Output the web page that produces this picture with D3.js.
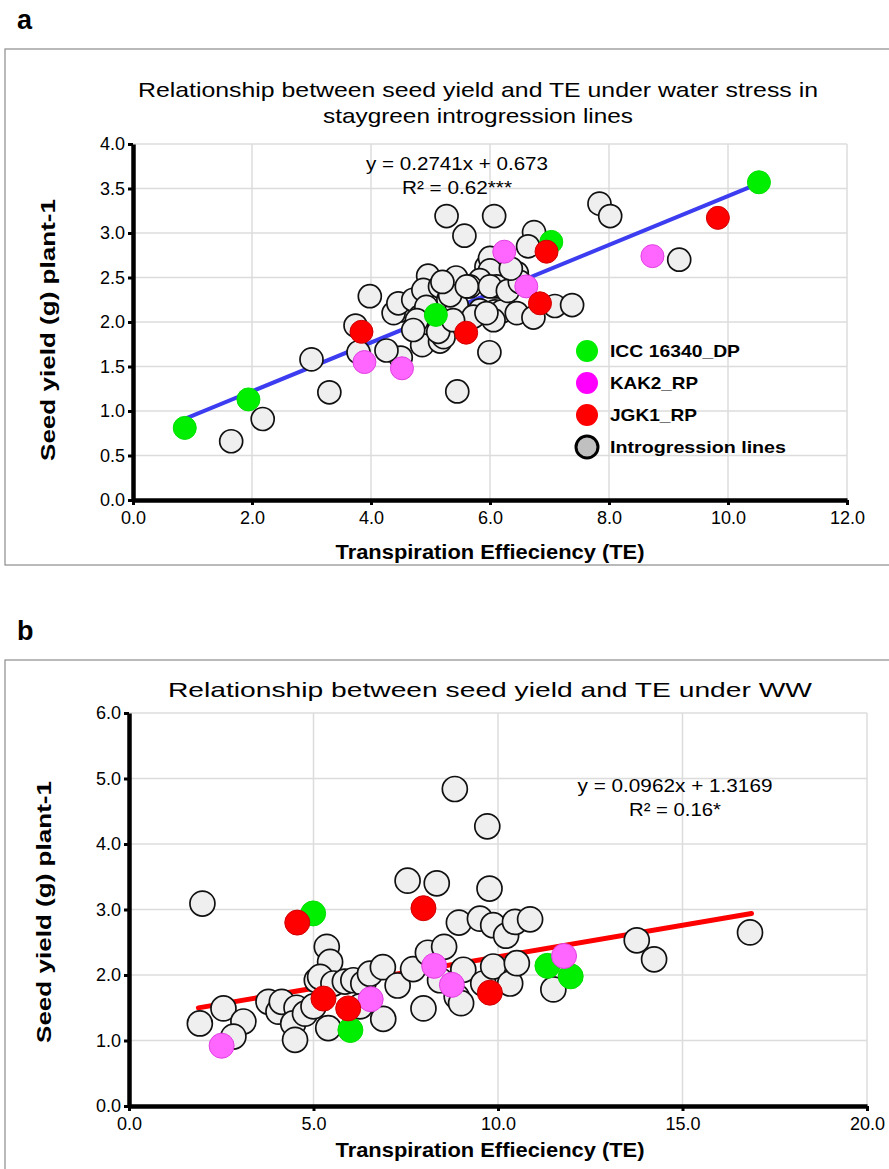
<!DOCTYPE html>
<html>
<head>
<meta charset="utf-8">
<script src="https://cdn.jsdelivr.net/npm/d3@7"></script>
<style>
  body { margin: 0; background: #fff; }
  text { font-family: "Liberation Sans", Arial, sans-serif; }
</style>
</head>
<body>
<script>
// Seed yield vs TE, two panels (a: water stress, b: well-watered)

const width = 889;
const height = 1169;

// ---- panel a data (TE, seed yield) ----
const aGrey = [[1.65,0.66],[2.18,0.91],[3.0,1.58],[3.30,1.21],[3.98,2.29],[3.74,1.96],[3.79,1.66],[4.50,1.60],
  [4.26,1.68],[5.45,1.22],[4.86,1.74],[5.16,1.78],[5.99,1.66],[4.49,2.13],[4.38,2.10],[4.46,2.21],[4.71,2.25],
  [4.96,2.52],[5.43,2.50],[5.94,2.62],[6.08,2.12],[5.27,3.19],[6.07,3.19],[5.57,2.97],[6.74,3.01],[6.64,2.85],
  [6.0,2.72],[6.0,2.58],[6.11,2.40],[5.83,2.47],[6.45,2.55],[7.09,2.18],[7.38,2.19],[4.88,2.36],[5.16,2.40],
  [5.30,2.25],[5.66,2.40],[5.83,2.13],[6.2,2.12],[5.44,2.19],[5.33,2.30],[6.45,2.10],[6.73,2.05],[6.06,2.02],
  [5.72,2.06],[4.82,2.06],[4.93,2.17],[4.77,2.02],[4.71,1.91],[5.22,1.83],[5.13,1.89],[5.38,2.02],[5.94,2.10],
  [6.0,2.40],[5.61,2.40],[7.84,3.33],[8.02,3.19],[9.18,2.70],[6.3,2.35],[6.5,2.45],[5.2,2.45],[6.35,2.6]];
const aGreen = [[0.87,0.81],[1.94,1.13],[5.09,2.08],[7.03,2.90],[10.52,3.57]];
const aPink = [[3.89,1.55],[4.52,1.48],[6.24,2.79],[6.61,2.40],[8.73,2.74]];
const aRed = [[3.84,1.89],[5.60,1.88],[6.95,2.79],[6.84,2.21],[9.83,3.17]];
const aFit = {slope: 0.2741, icept: 0.673, from: 0.87, to: 10.52};

// ---- panel b data ----
const bGrey = [[1.99,3.09],[1.92,1.26],[2.56,1.49],[3.10,1.29],[2.83,1.06],[3.78,1.59],[4.05,1.44],[4.14,1.59],
  [4.54,1.50],[4.45,1.26],[4.50,1.01],[4.77,1.41],[5.0,1.52],[5.09,1.92],[5.36,2.43],[5.45,2.20],[5.18,1.97],
  [5.40,1.19],[5.54,1.87],[5.85,1.90],[6.08,1.92],[6.35,1.87],[6.26,1.52],[6.53,2.02],[6.88,2.12],[6.89,1.33],
  [7.28,1.84],[7.70,2.09],[7.98,1.49],[8.10,2.34],[8.54,2.43],[8.43,1.92],[8.88,1.67],[9.0,1.57],[9.06,2.08],
  [9.60,1.87],[9.87,2.13],[10.33,1.87],[10.51,2.18],[7.55,3.44],[8.34,3.40],[9.77,3.32],[8.94,2.80],[9.51,2.86],
  [9.87,2.76],[10.22,2.60],[10.46,2.81],[10.87,2.85],[8.83,4.84],[9.71,4.27],[11.50,1.78],[13.76,2.53],
  [14.23,2.24],[16.83,2.65]];
const bGreen = [[4.99,2.94],[6.0,1.16],[11.34,2.14],[11.97,1.98]];
const bPink = [[2.51,0.92],[6.55,1.63],[8.27,2.14],[8.75,1.85],[11.79,2.29]];
const bRed = [[4.56,2.80],[7.98,3.02],[5.27,1.64],[5.94,1.49],[9.78,1.73]];
const bFit = {slope: 0.0962, icept: 1.3169, from: 1.88, to: 16.87};

const legendNames = ["ICC 16340_DP", "KAK2_RP", "JGK1_RP", "Introgression lines"];
const legendLens = [130, 88, 87, 176];

const svg = d3.select("body").append("svg")
    .attr("width", width)
    .attr("height", height);

// text helper; len forces the width seen in the source picture
function txt(g, x, y, s, size, opts = {}) {
    const t = g.append("text")
        .attr("transform", `translate(${x},${y})` + (opts.rotate ? ` rotate(${opts.rotate})` : ""))
        .attr("text-anchor", opts.anchor || "middle")
        .attr("font-size", size)
        .attr("font-weight", opts.bold ? "bold" : "normal")
        .attr("fill", "#000")
        .text(s);
    if (opts.len) t.attr("textLength", opts.len).attr("lengthAdjust", "spacingAndGlyphs");
    return t;
}

function drawPanel(p) {
    const g = svg.append("g");

    g.append("rect")
        .attr("x", 5).attr("y", p.boxTop)
        .attr("width", 900).attr("height", p.boxH)
        .attr("fill", "none").attr("stroke", "#8c8c8c").attr("stroke-width", 1.2);

    txt(g, 17, p.boxTop - 20, p.letter, 27, {bold: true, anchor: "start"});

    const x = d3.scaleLinear().domain(p.xDom).range(p.xRange);
    const y = d3.scaleLinear().domain(p.yDom).range(p.yRange);

    // gridlines
    g.append("g").selectAll("line").data(x.ticks(p.xTicks).slice(1)).join("line")
        .attr("x1", d => x(d)).attr("x2", d => x(d))
        .attr("y1", y.range()[0]).attr("y2", y.range()[1])
        .attr("stroke", "#dcdcdc").attr("stroke-width", 1.5);
    g.append("g").selectAll("line").data(y.ticks(p.yTicks).slice(1)).join("line")
        .attr("x1", x.range()[0]).attr("x2", x.range()[1])
        .attr("y1", d => y(d)).attr("y2", d => y(d))
        .attr("stroke", "#dcdcdc").attr("stroke-width", 1.5);

    // axes
    const fmt = d3.format(".1f");
    const xAxis = g.append("g")
        .attr("transform", `translate(0,${y.range()[0]})`)
        .call(d3.axisBottom(x).ticks(p.xTicks).tickFormat(fmt).tickSize(5).tickSizeOuter(0));
    const yAxis = g.append("g")
        .attr("transform", `translate(${x.range()[0]},0)`)
        .call(d3.axisLeft(y).ticks(p.yTicks).tickFormat(fmt).tickSize(5).tickSizeOuter(0));
    [xAxis, yAxis].forEach(ax => {
        ax.select(".domain").attr("stroke", "#000").attr("stroke-width", 4.5);
        ax.selectAll(".tick line").attr("stroke", "#000").attr("stroke-width", 3);
        ax.selectAll(".tick text").attr("font-size", 18).attr("fill", "#000")
            .attr("font-family", "Liberation Sans, Arial, sans-serif");
    });
    xAxis.selectAll(".tick text").attr("y", 11);
    yAxis.selectAll(".tick text").attr("x", -8);

    // trend line
    g.append("line")
        .attr("x1", x(p.fit.from)).attr("y1", y(p.fit.slope * p.fit.from + p.fit.icept))
        .attr("x2", x(p.fit.to)).attr("y2", y(p.fit.slope * p.fit.to + p.fit.icept))
        .attr("stroke", p.fitColor).attr("stroke-width", p.fitW).attr("stroke-linecap", "round");

    // points: grey first, then green, pink, red
    const series = [
        {data: p.grey, fill: "#efefef", stroke: "#111", sw: 1.7},
        {data: p.green, fill: "#00ee00", stroke: "#00e000", sw: 1},
        {data: p.pink, fill: "#ff66ff", stroke: "#e040e0", sw: 1},
        {data: p.red, fill: "#ff0000", stroke: "#d00000", sw: 1}
    ];
    series.forEach(s => {
        g.append("g").selectAll("circle").data(s.data).join("circle")
            .attr("cx", d => x(d[0])).attr("cy", d => y(d[1]))
            .attr("r", p.r)
            .attr("fill", s.fill).attr("stroke", s.stroke).attr("stroke-width", s.sw);
    });

    // titles
    p.title.forEach((t, i) => txt(g, p.titleX, p.titleY + i * 26, t, 21, {len: p.titleLens[i]}));
    txt(g, p.eqX, p.eqY, p.eq[0], 19, {len: p.eqLens[0]});
    txt(g, p.eqX, p.eqY + 24, p.eq[1], 19, {len: p.eqLens[1]});
    txt(g, p.xTitleX, p.xTitleY, "Transpiration Effieciency (TE)", 20, {bold: true, len: 309});
    txt(g, p.yTitleX, p.yTitleY, "Seed yield (g) plant-1", 21, {bold: true, rotate: -90, len: 262});

    return {g, x, y};
}

const pa = drawPanel({
    letter: "a", boxTop: 49, boxH: 516,
    xDom: [0, 12], xRange: [133, 847], xTicks: 6,
    yDom: [0, 4], yRange: [500, 144], yTicks: 8,
    grey: aGrey, green: aGreen, pink: aPink, red: aRed, r: 11.5,
    fit: aFit, fitColor: "#3c3cf0", fitW: 4,
    title: ["Relationship between seed yield and TE under water stress in", "staygreen introgression lines"],
    titleLens: [680, 310], titleX: 478, titleY: 97,
    eq: ["y = 0.2741x + 0.673", "R\u00b2 = 0.62***"], eqLens: [182, 110], eqX: 457, eqY: 170,
    xTitleX: 490, xTitleY: 559, yTitleX: 55, yTitleY: 330
});

// legend for panel a
const legColors = [["#00ee00", "none", 0], ["#ff00ff", "none", 0], ["#ff0000", "none", 0], ["#c0c0c0", "#000", 3]];
legendNames.forEach((name, i) => {
    const cy = 351 + i * 32;
    pa.g.append("circle").attr("cx", 587).attr("cy", cy).attr("r", 11)
        .attr("fill", legColors[i][0]).attr("stroke", legColors[i][1]).attr("stroke-width", legColors[i][2]);
    txt(pa.g, 610, cy + 6, name, 17, {bold: true, anchor: "start", len: legendLens[i]});
});

drawPanel({
    letter: "b", boxTop: 660, boxH: 600,
    xDom: [0, 20], xRange: [129, 867], xTicks: 4,
    yDom: [0, 6], yRange: [1106, 713], yTicks: 6,
    grey: bGrey, green: bGreen, pink: bPink, red: bRed, r: 12.5,
    fit: bFit, fitColor: "#ff0000", fitW: 5,
    title: ["Relationship between seed yield and TE under WW"],
    titleLens: [644], titleX: 490, titleY: 697,
    eq: ["y = 0.0962x + 1.3169", "R\u00b2 = 0.16*"], eqLens: [195, 92], eqX: 675, eqY: 792,
    xTitleX: 490, xTitleY: 1157, yTitleX: 51, yTitleY: 912
});
</script>
</body>
</html>
